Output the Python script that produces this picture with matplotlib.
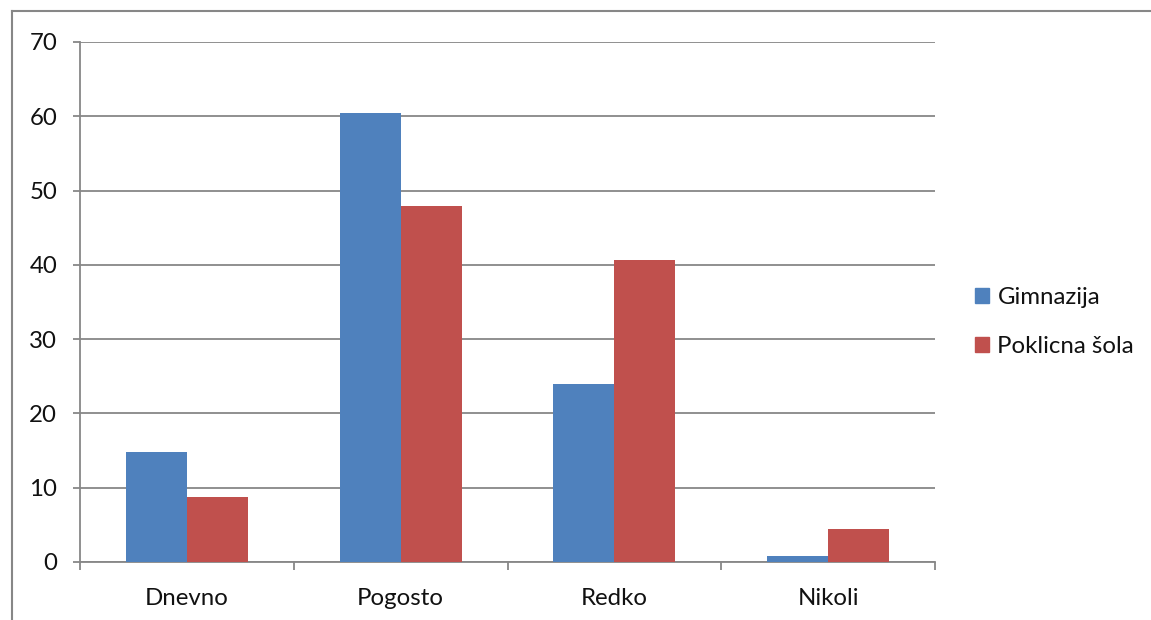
import matplotlib
matplotlib.use("Agg")
import matplotlib.pyplot as plt
from matplotlib.lines import Line2D
from matplotlib.patches import Patch
import numpy as np

# data
kategorije = ["Dnevno", "Pogosto", "Redko", "Nikoli"]
gimnazija = [14.8, 60.4, 24.0, 0.8]
poklicna = [8.7, 47.9, 40.7, 4.4]
serije = ["Gimnazija", "Poklicna šola"]

W, H = 1151, 620
plt.rcParams['font.family'] = ['Lato', 'DejaVu Sans']
fig = plt.figure(figsize=(W/100, H/100), dpi=100)

siva = "#878787"
# okvir grafa (vidna sta le zgornji in levi rob)
fig.add_artist(Line2D([12/W, 12/W], [0, 1-11/H], color=siva, lw=1.5))
fig.add_artist(Line2D([12/W, 1], [1-11/H, 1-11/H], color=siva, lw=1.5))

ax = fig.add_axes([80/W, (H-562)/H, (935-80)/W, (562-42)/H])
x = np.arange(len(kategorije))
w = 1/3.5
ax.bar(x - w/2, gimnazija, w, color="#4F81BD", zorder=3)
ax.bar(x + w/2, poklicna, w, color="#C0504D", zorder=3)

ax.set_xlim(-0.5, 3.5)
ax.set_ylim(0, 70)
ax.set_yticks(range(0, 71, 10))
ax.yaxis.grid(True, color=siva, lw=1.3)
ax.set_axisbelow(True)
for s in ["top", "right"]:
    ax.spines[s].set_visible(False)
for s in ["left", "bottom"]:
    ax.spines[s].set_color(siva)
    ax.spines[s].set_linewidth(1.3)

fs = 17.3
ax.set_xticks(x)
ax.set_xticklabels(kategorije)
ax.set_xticks(np.arange(-0.5, 3.6, 1), minor=True)
ax.tick_params(axis="x", which="major", length=0, pad=19, labelsize=fs, labelcolor="#111111")
ax.tick_params(axis="x", which="minor", length=5.5, width=1.3, color=siva)
ax.tick_params(axis="y", length=5, width=1.3, color=siva, pad=11.5, labelsize=fs, labelcolor="#111111")

handles = [Patch(color="#4F81BD"), Patch(color="#C0504D")]
fig.legend(handles, serije, loc="center left", bbox_to_anchor=(953/W, 1-322/H),
           frameon=False, fontsize=fs, handlelength=0.6, handleheight=0.6,
           handletextpad=0.35, labelspacing=1.15, labelcolor="#111111")

fig.savefig("out.png", dpi=100)
